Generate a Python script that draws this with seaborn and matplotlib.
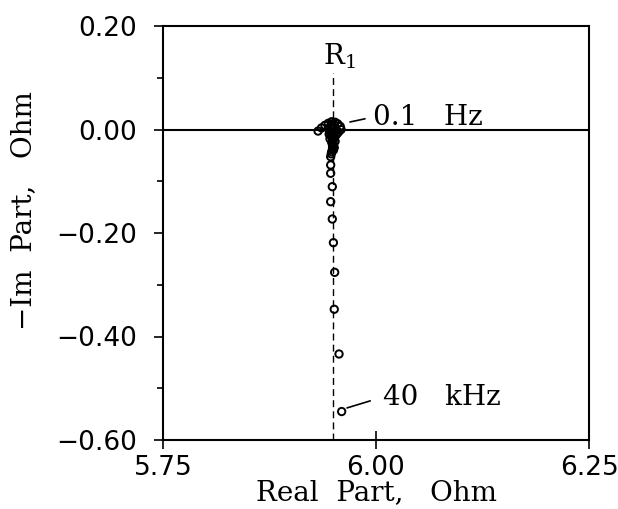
import numpy as np
import pandas as pd
import seaborn as sns
import matplotlib
matplotlib.use("Agg")
import matplotlib.pyplot as plt
from matplotlib.ticker import FixedLocator

# impedance points (real part, -imag part)
real_part = [5.932, 5.936, 5.940, 5.944, 5.948, 5.952, 5.955, 5.958, 5.959, 5.956,
             5.953, 5.950, 5.947, 5.944, 5.946, 5.950, 5.954, 5.951, 5.948, 5.945,
             5.947, 5.951, 5.953, 5.949, 5.946, 5.950, 5.952, 5.948, 5.950, 5.949,
             5.951, 5.949, 5.950, 5.948, 5.9475,
             5.9468, 5.9468, 5.9468, 5.9487, 5.9468, 5.9487, 5.9500, 5.9515,
             5.9510, 5.9566, 5.9597]
im_part = [-0.003, 0.003, 0.008, 0.012, 0.015, 0.014, 0.011, 0.006, 0.000, -0.005,
           -0.002, 0.004, 0.007, 0.002, -0.004, -0.006, -0.008, 0.009, 0.010, -0.009,
           -0.012, -0.013, -0.011, -0.016, -0.018, -0.020, -0.023, -0.025, -0.029,
           -0.032, -0.035, -0.037, -0.040, -0.043, -0.047,
           -0.0526, -0.0686, -0.0846, -0.1105, -0.1395, -0.173, -0.2187, -0.276,
           -0.3474, -0.4338, -0.545]

r1 = 5.95
x_ticks = [5.75, 6.00, 6.25]
x_ticklabels = ["5.75", "6.00", "6.25"]
y_ticks = [0.20, 0.00, -0.20, -0.40, -0.60]
y_ticklabels = ["0.20", "0.00", "\u22120.20", "\u22120.40", "\u22120.60"]
y_minor = [0.10, -0.10, -0.30, -0.50]

df = pd.DataFrame({"Real": real_part, "Im": im_part})

sns.set_style("ticks")
plt.rcParams["font.family"] = ["DejaVu Sans"]
plt.rcParams["text.color"] = "black"
plt.rcParams["axes.labelcolor"] = "black"

fig = plt.figure(figsize=(6.18, 5.09), dpi=100)
ax = fig.add_axes([163 / 618, 1 - 440 / 509, 426 / 618, 414 / 509])

ax.axhline(0, color="black", lw=1.5, zorder=1)
ax.plot([r1, r1], [-0.6, 0.109], color="black", lw=1.0, dashes=(5, 3), zorder=1)

sns.scatterplot(data=df, x="Real", y="Im", ax=ax, marker="o", s=28,
                facecolors="none", edgecolor="black", linewidth=1.4, zorder=3)

ax.set_xlim(5.75, 6.25)
ax.set_ylim(-0.60, 0.20)
ax.set_xticks(x_ticks)
ax.set_xticklabels(x_ticklabels)
ax.set_yticks(y_ticks)
ax.set_yticklabels(y_ticklabels)
ax.yaxis.set_minor_locator(FixedLocator(y_minor))

ax.tick_params(axis="x", direction="inout", length=13, width=1.2, pad=4,
               labelsize=19, colors="black")
ax.tick_params(axis="y", which="major", direction="out", length=6.5, width=1.2,
               pad=12, labelsize=19, colors="black")
ax.tick_params(axis="y", which="minor", direction="out", length=4.3, width=1.2,
               colors="black")

for s in ax.spines.values():
    s.set_linewidth(1.5)
    s.set_color("black")

serif = ["DejaVu Serif"]
ax.set_xlabel("Real  Part,   Ohm", fontsize=20, family=serif)
ax.xaxis.set_label_coords(0.5, -0.095)
ax.set_ylabel("\u2212Im  Part,   Ohm", fontsize=20, family=serif)
ax.yaxis.set_label_coords(-0.296, 0.553)

ax.text(5.9566, 0.142, r"R$_1$", fontsize=20, family=serif, ha="center",
        va="center", math_fontfamily="dejavuserif")

ax.annotate("0.1   Hz", xy=(5.9695, 0.0145), xytext=(5.9965, 0.024),
            fontsize=20, family=serif, ha="left", va="center",
            arrowprops=dict(arrowstyle="-", color="black", lw=1.2,
                            shrinkA=3.5, shrinkB=0, relpos=(0, 0.5)))
ax.annotate("40   kHz", xy=(5.966, -0.538), xytext=(6.008, -0.517),
            fontsize=20, family=serif, ha="left", va="center",
            arrowprops=dict(arrowstyle="-", color="black", lw=1.2,
                            shrinkA=7, shrinkB=0, relpos=(0, 0.5)))

fig.savefig("out.png", dpi=100)
plt.close(fig)
